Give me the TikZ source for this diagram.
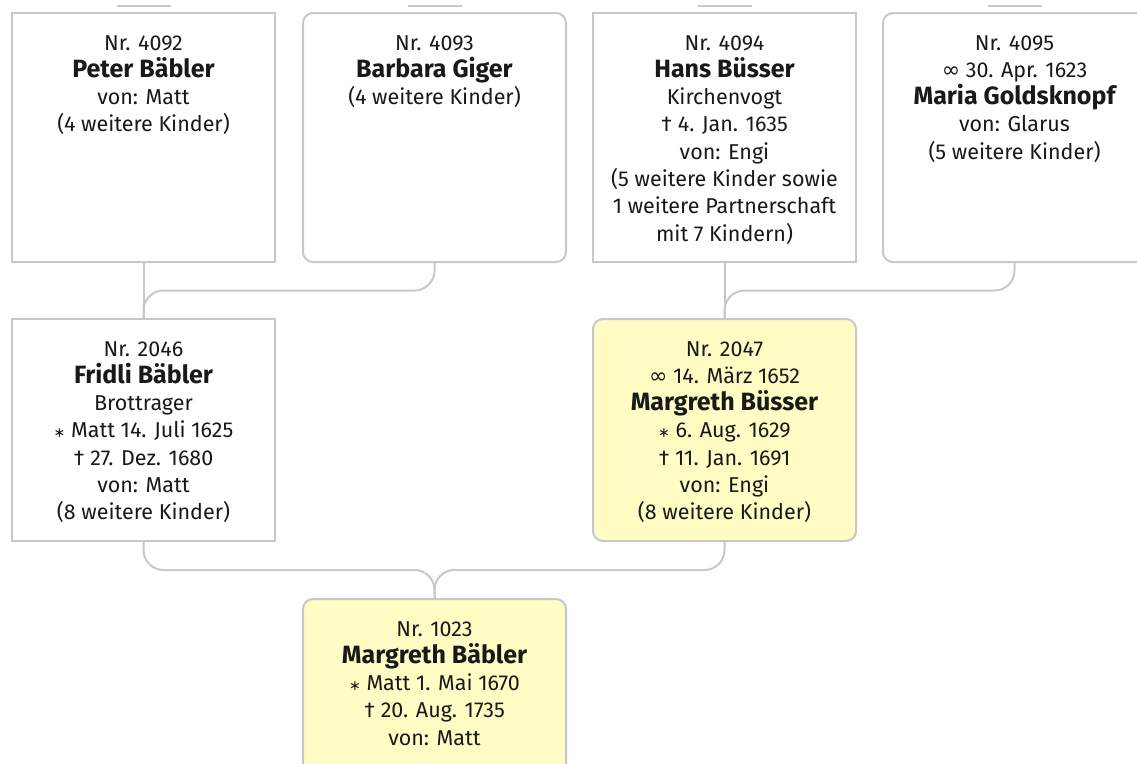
\documentclass[tikz,border=0pt]{standalone}
\usepackage{fontspec}
\setmainfont{Fira Sans}
\newfontfamily\symfont{DejaVu Sans}
\usetikzlibrary{calc}

\definecolor{linegray}{RGB}{200,200,200}
\definecolor{hilite}{RGB}{255,252,196}
\definecolor{ink}{RGB}{25,25,25}

% text block of one person card: fixed height, lines centred from the top
\newcommand\cardtext[2]{%
  \begin{minipage}[t][#1][t]{263pt}\centering
  \fontsize{21.5}{27.3}\selectfont\rule{0pt}{37pt}#2%
  \end{minipage}}
\newcommand\pname[1]{{\fontsize{25}{27.3}\selectfont\bfseries #1}}
\newcommand\born{{\symfont\fontsize{14}{14}\selectfont ∗}}
\newcommand\wed{{\symfont\fontsize{22}{22}\selectfont ∞}}
\newcommand\died{†}

\begin{document}
\begin{tikzpicture}[x=1pt,y=-1pt,
  card/.style={draw=linegray, line width=2pt, fill=white, inner sep=0pt,
               anchor=north west, text=ink},
  softcard/.style={card, rounded corners=10pt},
  hicard/.style={softcard, fill=hilite},
  link/.style={draw=linegray, line width=2pt, rounded corners=20pt}]

\useasboundingbox (0,0) rectangle (1137,763);
\clip (0,0) rectangle (1137,763);
\fill[white] (0,0) rectangle (1137,763);

% great-grandparents
\node[card] (p4092) at (11,12) {\cardtext{249pt}{Nr. 4092\\\pname{Peter Bäbler}\\von: Matt\\(4 weitere Kinder)}};
\node[softcard] (p4093) at (302,12) {\cardtext{249pt}{Nr. 4093\\\pname{Barbara Giger}\\(4 weitere Kinder)}};
\node[card] (p4094) at (592,12) {\cardtext{249pt}{Nr. 4094\\\pname{Hans Büsser}\\Kirchenvogt\\\died\ 4. Jan. 1635\\von: Engi\\(5 weitere Kinder sowie\\1 weitere Partnerschaft\\mit 7 Kindern)}};
\node[softcard] (p4095) at (882,12) {\cardtext{249pt}{Nr. 4095\\\wed\ 30. Apr. 1623\\\pname{Maria Goldsknopf}\\von: Glarus\\(5 weitere Kinder)}};

% grandparents
\node[card] (f2046) at (11,318) {\cardtext{222pt}{Nr. 2046\\\pname{Fridli Bäbler}\\Brottrager\\\born\ Matt 14. Juli 1625\\\died\ 27. Dez. 1680\\von: Matt\\(8 weitere Kinder)}};
\node[hicard] (b2047) at (592,318) {\cardtext{222pt}{Nr. 2047\\\wed\ 14. März 1652\\\pname{Margreth Büsser}\\\born\ 6. Aug. 1629\\\died\ 11. Jan. 1691\\von: Engi\\(8 weitere Kinder)}};

% proband
\node[hicard] (m1023) at (302,598) {\cardtext{230pt}{Nr. 1023\\\pname{Margreth Bäbler}\\\born\ Matt 1. Mai 1670\\\died\ 20. Aug. 1735\\von: Matt}};

% parent links
\coordinate (ja) at ($(p4092.south)!0.5!(f2046.north)$);
\coordinate (jbm) at ($(p4094.south)!0.5!(b2047.north)$);
\coordinate (jmid) at ($(f2046.south)!0.5!(m1023.north)$);
\coordinate (jc) at (m1023.north |- jmid);

\draw[link] (p4092.south) -- (f2046.north);
\draw[link] (p4093.south) |- (ja) -- (f2046.north);
\draw[link] (p4094.south) -- (b2047.north);
\draw[link] (p4095.south) |- (jbm) -- (b2047.north);
\draw[link] (f2046.south) |- (jc) -- (m1023.north);
\draw[link] (b2047.south) |- (jc) -- (m1023.north);

% stubs towards the next generation
\foreach \p in {p4092,p4093,p4094,p4095}
  \draw[link] ([shift={(-27,-6)}]\p.north) -- ([shift={(27,-6)}]\p.north);

\end{tikzpicture}
\end{document}
